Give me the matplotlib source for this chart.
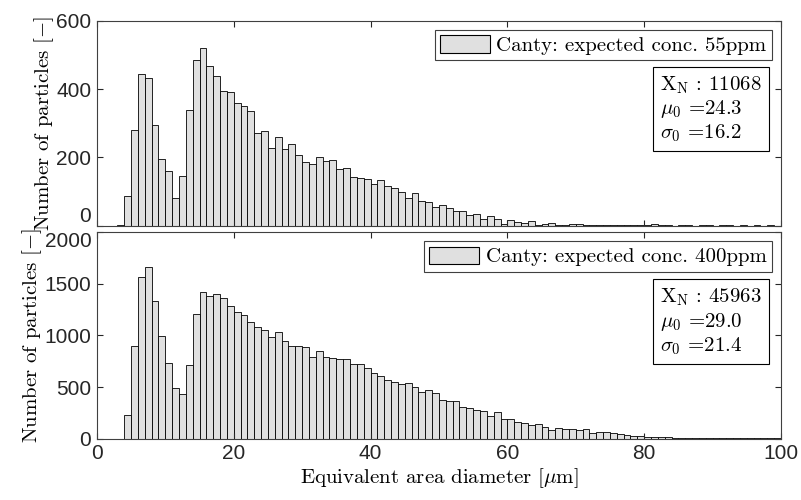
import numpy as np
import matplotlib
matplotlib.use('Agg')
import matplotlib.pyplot as plt
from matplotlib.patches import Patch

# bin left edges, 1 um wide bins from 0 to 100
edges = list(range(0, 100))

counts_55 = [0, 0, 0, 2, 88, 279, 445, 432, 296, 196,
             161, 82, 145, 338, 484, 519, 467, 438, 395, 392,
             358, 349, 336, 272, 278, 226, 259, 224, 239, 207,
             186, 180, 200, 189, 191, 166, 169, 142, 140, 137,
             122, 133, 115, 111, 100, 81, 96, 71, 68, 56,
             62, 53, 44, 43, 31, 35, 20, 29, 21, 6,
             18, 12, 8, 13, 3, 6, 7, 3, 1, 4,
             4, 1, 3, 1, 3, 2, 1, 3, 1, 1,
             1, 5, 1, 1, 0, 3, 1, 0, 1, 1,
             0, 1, 1, 0, 1, 0, 1, 0, 1, 0]

counts_400 = [0, 0, 0, 0, 232, 900, 1568, 1661, 1336, 990,
              729, 494, 435, 716, 1206, 1416, 1378, 1403, 1365, 1287,
              1223, 1200, 1126, 1077, 1048, 981, 1036, 942, 894, 894,
              887, 794, 848, 794, 784, 771, 774, 726, 723, 684,
              632, 603, 571, 552, 529, 542, 503, 448, 468, 442,
              377, 368, 361, 310, 297, 281, 265, 216, 258, 187,
              187, 165, 148, 135, 145, 113, 87, 100, 97, 90,
              81, 90, 52, 65, 65, 55, 45, 35, 29, 29,
              19, 16, 13, 12, 10, 10, 9, 8, 9, 7,
              6, 7, 5, 6, 5, 4, 5, 3, 4, 2]

labels = ['Canty: expected conc. 55ppm', 'Canty: expected conc. 400ppm']
stats = [('11068', '24.3', '16.2'), ('45963', '29.0', '21.4')]
yticks = [[0, 200, 400, 600], [0, 500, 1000, 1500, 2000]]
ylims = [600, 2000]

plt.rcParams['mathtext.fontset'] = 'cm'
plt.rcParams['axes.unicode_minus'] = False
serif = ['cmr10', 'DejaVu Serif']
tickfont = 'Liberation Sans'

fig = plt.figure(figsize=(8.01, 5.00), dpi=100)
axes = [fig.add_axes([0.121, 0.5486, 0.854, 0.41]),
        fig.add_axes([0.121, 0.1226, 0.854, 0.4134])]
boxtop = [0.74, 0.735]

for i, (ax, cnt) in enumerate(zip(axes, [counts_55, counts_400])):
    ax.bar(edges, cnt, width=1.0, align='edge', color='#e0e0e0',
           edgecolor='black', linewidth=0.6)
    ax.set_xlim(0, 100)
    ax.set_ylim(0, ylims[i])
    ax.set_yticks(yticks[i])
    ax.set_xticks([0, 20, 40, 60, 80, 100])
    ax.tick_params(direction='in', top=True, right=True, length=4,
                   width=0.8, colors='#262626', labelsize=15, pad=4)
    for lab in ax.get_xticklabels() + ax.get_yticklabels():
        lab.set_family(tickfont)
    for sp in ax.spines.values():
        sp.set_color('#404040')
        sp.set_linewidth(0.8)
    ax.set_ylabel(r'Number of particles $[-]$', family=serif, fontsize=15,
                  labelpad=0)
    leg = ax.legend([Patch(facecolor='#e0e0e0', edgecolor='black', linewidth=0.8)],
                    [labels[i]], loc='upper right', fancybox=False,
                    framealpha=1, edgecolor='#404040',
                    prop={'family': serif, 'size': 15},
                    handlelength=2.4, handleheight=0.9, handletextpad=0.3,
                    borderpad=0.25, borderaxespad=0.45)
    leg.get_frame().set_linewidth(0.8)
    n, mu, sg = stats[i]
    txt = (r'$\mathrm{X_N}$ : ' + n + '\n' + r'$\mu_0$ =' + mu + '\n'
           + r'$\sigma_0$ =' + sg)
    ax.text(0.972, boxtop[i], txt, transform=ax.transAxes, ha='right', va='top',
            multialignment='left', family=serif, fontsize=15, linespacing=1.15,
            bbox=dict(boxstyle='square,pad=0.35', fc='white', ec='black', lw=0.8))

axes[0].tick_params(labelbottom=False)
# keep the neighbouring "0" and "2000" tick labels apart
axes[0].get_yticklabels()[0].set_va('bottom')
axes[1].get_yticklabels()[-1].set_va('top')
axes[1].set_xlabel(r'Equivalent area diameter [$\mathrm{\mu}$m]', family=serif,
                   fontsize=15, labelpad=2)

fig.savefig('out.png', dpi=100)
